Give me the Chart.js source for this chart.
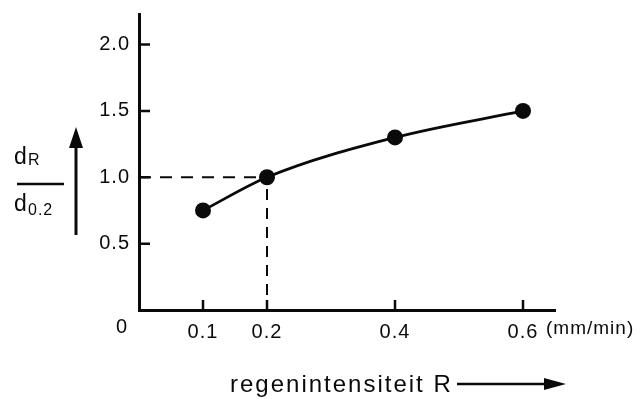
<!DOCTYPE html>
<html>
<head>
<meta charset="utf-8">
<title>regenintensiteit</title>
<script src="https://cdn.jsdelivr.net/npm/chart.js@4.4.1/dist/chart.umd.min.js"></script>
<style>
  html, body { margin: 0; padding: 0; background: #fff; }
  #wrap { width: 643px; height: 399px; position: relative; }
</style>
</head>
<body>
<div id="wrap"><canvas id="chart" width="643" height="399"></canvas></div>
<script>
// measured drop size ratio d_R / d_0.2 against rain intensity R (mm/min)
const rainRates = [0.1, 0.2, 0.4, 0.6];
const dropRatios = [0.75, 1.0, 1.3, 1.5];

// tick values
const xTicks = [0.1, 0.2, 0.4, 0.6];
const yTicks = [0.5, 1.0, 1.5, 2.0];

// reference point used for the dashed guide lines
const refRate = 0.2;
const refRatio = 1.0;

const INK = '#0a0a0a';
const FONT = "'Liberation Sans', Arial, Helvetica, sans-serif";

function arrowHead(ctx, tipX, tipY, dir, len, half) {
    ctx.beginPath();
    if (dir === 'up') {
        ctx.moveTo(tipX, tipY);
        ctx.lineTo(tipX - half, tipY + len);
        ctx.lineTo(tipX + half, tipY + len);
    } else {
        ctx.moveTo(tipX, tipY);
        ctx.lineTo(tipX - len, tipY - half);
        ctx.lineTo(tipX - len, tipY + half);
    }
    ctx.closePath();
    ctx.fill();
}

// inward tick marks, origin label, unit and axis titles with arrows
const decorations = {
    id: 'decorations',
    beforeDraw(chart) {
        chart.ctx.letterSpacing = '1px';
    },
    beforeDatasetsDraw(chart) {
        chart.ctx.letterSpacing = '0px';
    },
    afterDraw(chart) {
        const ctx = chart.ctx;
        const { left, bottom } = chart.chartArea;
        const xs = chart.scales.x;
        const ys = chart.scales.y;

        ctx.save();
        ctx.strokeStyle = INK;
        ctx.fillStyle = INK;
        ctx.lineWidth = 2.5;
        ctx.beginPath();
        xTicks.forEach(v => {
            const px = xs.getPixelForValue(v);
            ctx.moveTo(px, bottom);
            ctx.lineTo(px, bottom - 10);
        });
        yTicks.forEach(v => {
            const py = ys.getPixelForValue(v);
            ctx.moveTo(left, py);
            ctx.lineTo(left + 11, py);
        });
        ctx.stroke();

        ctx.letterSpacing = '1px';
        ctx.font = '20px ' + FONT;
        ctx.textBaseline = 'middle';
        ctx.textAlign = 'center';
        ctx.fillText('0', 122, 327);
        ctx.textAlign = 'left';
        ctx.font = '19px ' + FONT;
        ctx.fillText('(mm/min)', 546, 329);

        // x axis title
        ctx.letterSpacing = '2px';
        ctx.font = '24px ' + FONT;
        ctx.textBaseline = 'alphabetic';
        ctx.fillText('regenintensiteit R', 230, 392);
        ctx.letterSpacing = '0px';
        ctx.beginPath();
        ctx.moveTo(457, 384);
        ctx.lineTo(546, 384);
        ctx.stroke();
        arrowHead(ctx, 566, 384, 'right', 22, 6);

        // y axis title: d_R over d_0.2
        ctx.font = '23px ' + FONT;
        ctx.fillText('d', 14, 164);
        ctx.fillText('d', 14, 211);
        ctx.font = '16px ' + FONT;
        ctx.letterSpacing = '1px';
        ctx.fillText('R', 28, 165);
        ctx.fillText('0.2', 28, 215);
        ctx.letterSpacing = '0px';
        ctx.beginPath();
        ctx.moveTo(17, 184);
        ctx.lineTo(64, 184);
        ctx.stroke();

        ctx.lineWidth = 3;
        ctx.beginPath();
        ctx.moveTo(76, 235);
        ctx.lineTo(76, 146);
        ctx.stroke();
        arrowHead(ctx, 76, 127, 'up', 21, 7);
        ctx.restore();
    }
};

// no extra room for labels at the scale ends
function dropEndPadding(scale) {
    scale.paddingTop = 0;
    scale.paddingBottom = 0;
    scale.paddingLeft = 0;
    scale.paddingRight = 0;
}

const ctx = document.getElementById('chart').getContext('2d');
const chart = new Chart(ctx, {
    type: 'scatter',
    data: {
        datasets: [
            {
                label: 'dR/d0.2',
                data: rainRates.map((r, i) => ({ x: r, y: dropRatios[i] })),
                showLine: true,
                cubicInterpolationMode: 'monotone',
                borderColor: INK,
                borderWidth: 2.8,
                pointRadius: 8,
                pointBackgroundColor: INK,
                pointBorderColor: INK,
                pointBorderWidth: 0
            },
            {
                label: 'guide-h',
                data: [{ x: 0, y: refRatio }, { x: refRate, y: refRatio }],
                showLine: true,
                borderColor: INK,
                borderWidth: 2,
                borderDash: [12, 9],
                pointRadius: 0
            },
            {
                label: 'guide-v',
                data: [{ x: refRate, y: 0 }, { x: refRate, y: refRatio }],
                showLine: true,
                borderColor: INK,
                borderWidth: 2,
                borderDash: [11, 8],
                borderDashOffset: 4,
                pointRadius: 0
            }
        ]
    },
    options: {
        responsive: false,
        animation: false,
        layout: {
            padding: { left: 0, top: 14, right: 88, bottom: 0 }
        },
        plugins: {
            legend: { display: false },
            tooltip: { enabled: false }
        },
        scales: {
            x: {
                type: 'linear',
                position: 'bottom',
                min: 0,
                max: 0.65,
                afterBuildTicks: (scale) => {
                    scale.ticks = xTicks.map(v => ({ value: v }));
                },
                afterFit: (scale) => {
                    scale.height = 89;
                    dropEndPadding(scale);
                },
                grid: { display: false, drawTicks: false },
                border: { display: true, color: INK, width: 3 },
                ticks: {
                    color: INK,
                    padding: 10,
                    maxRotation: 0,
                    autoSkip: false,
                    font: { family: FONT, size: 20 },
                    callback: (v) => v.toFixed(1)
                }
            },
            y: {
                type: 'linear',
                min: 0,
                max: 2.23,
                afterBuildTicks: (scale) => {
                    scale.ticks = yTicks.map(v => ({ value: v }));
                },
                afterFit: (scale) => {
                    scale.width = 139;
                    dropEndPadding(scale);
                },
                grid: { display: false, drawTicks: false },
                border: { display: true, color: INK, width: 3 },
                ticks: {
                    color: INK,
                    padding: 9,
                    autoSkip: false,
                    font: { family: FONT, size: 20 },
                    callback: (v) => v.toFixed(1)
                }
            }
        }
    },
    plugins: [decorations]
});
</script>
</body>
</html>
